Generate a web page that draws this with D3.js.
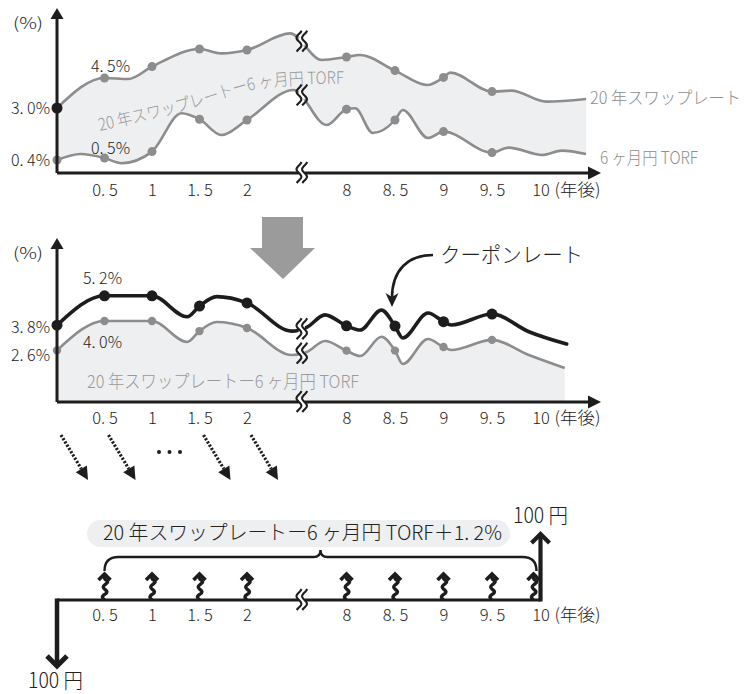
<!DOCTYPE html>
<html><head><meta charset="utf-8">
<script src="https://cdn.jsdelivr.net/npm/d3@7"></script>
<style>
html,body{margin:0;padding:0;background:#fff;}
svg text{font-family:'Noto Sans CJK JP','Noto Sans',sans-serif;font-weight:300;}
</style></head><body>
<svg id="c" width="748" height="694"></svg>
<script>
// ---------------- data ----------------
const tickYears = [0.5, 1, 1.5, 2, 8, 8.5, 9, 9.5, 10];
const dotYears = [0, 0.5, 1, 1.5, 2, 8, 8.5, 9, 9.5];
const breakYear = 5.3;

// top chart: 20-year swap rate (%)
const swapYears  = [0, 0.5, 0.75, 1, 1.5, 1.73, 2, 4.6, 6.5, 8, 8.14, 8.5, 8.83, 9, 9.07, 9.5, 9.7, 10.06, 10.47];
const swapValues = [3.0, 4.5, 4.45, 5.07, 5.95, 5.73, 5.9, 6.73, 5.4, 5.55, 5.65, 4.87, 4.15, 4.53, 4.77, 3.82, 3.87, 3.32, 3.45];
// top chart: 6-month yen TORF (%)
const torfYears  = [0, 0.25, 0.5, 0.68, 1, 1.31, 1.5, 1.73, 2, 4.8, 6.8, 8, 8.09, 8.27, 8.5, 8.58, 8.84, 9, 9.5, 9.67, 10.02, 10.22, 10.47];
const torfValues = [0.4, 0.7, 0.5, 0.24, 0.82, 2.74, 2.44, 1.65, 2.4, 3.9, 2.15, 2.94, 2.99, 1.75, 2.4, 2.9, 1.5, 1.82, 0.77, 1.02, 0.65, 0.87, 0.7];

// middle chart: coupon rate (%)
const couponYears  = [0, 0.5, 1, 1.37, 1.5, 1.68, 2, 4.7, 5.6, 6.7, 8, 8.14, 8.36, 8.5, 8.58, 8.84, 9, 9.08, 9.5, 9.88, 10.27];
const couponValues = [3.8, 5.2, 5.2, 4.2, 4.71, 5.16, 4.86, 3.52, 3.7, 4.29, 3.77, 3.57, 4.52, 3.76, 3.19, 4.38, 3.97, 3.81, 4.33, 3.49, 2.9];
// middle chart: swap - TORF spread (%)
const spreadYears  = [0, 0.5, 1, 1.37, 1.5, 1.68, 2, 4.7, 5.6, 6.7, 8, 8.14, 8.36, 8.5, 8.58, 8.84, 9, 9.08, 9.5, 9.88, 10.25];
const spreadValues = [2.6, 4.0, 4.0, 3.0, 3.52, 3.95, 3.67, 2.38, 2.52, 3.05, 2.59, 2.33, 3.25, 2.59, 1.95, 3.14, 2.76, 2.62, 3.1, 2.38, 1.76];

const dottedArrowYears = [0, 0.5, 1.5, 2];
const cashflowYears = [0.5, 1, 1.5, 2, 8, 8.5, 9, 9.5, 10];
const principalLabel = "100 円";
const swapLabel = "20 年スワップレート";
const torfLabel = "6 ヶ月円 TORF";
const spreadLabel = "20 年スワップレートー6 ヶ月円 TORF";
const couponFormula = "20 年スワップレートー6 ヶ月円 TORF＋1. 2%";
const couponLabel = "クーポンレート";
const unitLabel = "(%)";
const yearUnit = "(年後)";

// ---------------- helpers ----------------
const INK = '#1d1d1d', GRAY = '#8d8d8d', FILL = '#eeeff1', TGRAY = '#9a9a9a';
const svg = d3.select('#c');
const X = d3.scaleLinear().domain([0, 2, 8, 10]).range([57, 247, 346.5, 540.5]);
const yTop = d3.scaleLinear().domain([0, 5]).range([168, 68]);
const yMid = d3.scaleLinear().domain([0, 5]).range([405, 300]);
const TOP_BASE = 173, MID_BASE = 402, BOT_BASE = 600;
const fmtYear = d => String(d).replace('.', '. ');
const fmtPct = d => d.toFixed(1).replace('.', '. ') + '%';
const pts = (xs, vs) => xs.map((x, i) => [x, vs[i]]);

function txt(g, x, y, s, o = {}) {
  const t = g.append('text').attr('x', x).attr('y', y).attr('dy', '0.35em').text(s)
    .attr('font-size', o.size || 16).attr('fill', o.fill || '#222')
    .attr('text-anchor', o.anchor || 'start');
  if (o.len) t.attr('textLength', o.len).attr('lengthAdjust', 'spacingAndGlyphs');
  return t;
}
function yAt(node, x) {
  let lo = 0, hi = node.getTotalLength();
  for (let i = 0; i < 40; i++) {
    const m = (lo + hi) / 2;
    if (node.getPointAtLength(m).x < x) lo = m; else hi = m;
  }
  return node.getPointAtLength(lo).y;
}
function brk(g, x, y) {
  g.append('rect').attr('x', x - 3).attr('y', y - 4).attr('width', 6).attr('height', 8).attr('fill', '#fff');
  const wave = d3.line().curve(d3.curveBasis);
  [-2.8, 2.8].forEach(dx => {
    const p = d3.range(-11, 11.5, 1.5).map(t => [x + dx + 2.6 * Math.sin(Math.PI * t / 7.5), y + t]);
    g.append('path').attr('d', wave(p)).attr('fill', 'none').attr('stroke', INK).attr('stroke-width', 2.1);
  });
}
function xAxis(g, y, pad) {
  const a = g.append('g').attr('transform', `translate(0,${y})`)
    .call(d3.axisBottom(X).tickValues(tickYears).tickFormat(fmtYear).tickSize(0).tickPadding(pad));
  a.select('.domain').remove();
  a.selectAll('text').attr('font-size', 16.5).attr('fill', '#222')
    .attr('font-family', "'Noto Sans CJK JP','Noto Sans',sans-serif");
  g.append('text').attr('x', X(10) + 14).attr('y', y + pad).attr('dy', '0.71em')
    .attr('font-size', 17).attr('fill', '#222').text(yearUnit)
    .attr('textLength', 46).attr('lengthAdjust', 'spacingAndGlyphs');
}
function frame(g, base, tipY) {
  g.append('path').attr('d', `M57,${base}V${tipY + 9}M57,${base}H591`)
    .attr('stroke', INK).attr('stroke-width', 3).attr('fill', 'none');
  g.append('path').attr('d', `M50.5,${tipY + 11}L57,${tipY}L63.5,${tipY + 11}Z`).attr('fill', INK);
  g.append('path').attr('d', `M588,${base - 6.5}L601,${base}L588,${base + 6.5}Z`).attr('fill', INK);
}
const lineOf = y => d3.line().x(d => X(d[0])).y(d => y(d[1])).curve(d3.curveMonotoneX);
const areaOf = (y, b) => d3.area().x(d => X(d[0])).y0(b).y1(d => y(d[1])).curve(d3.curveMonotoneX);

// ---------------- top chart ----------------
const gT = svg.append('g');
const swapPts = pts(swapYears, swapValues), torfPts = pts(torfYears, torfValues);
gT.append('path').attr('d', areaOf(yTop, TOP_BASE)(swapPts)).attr('fill', FILL);
gT.append('path').attr('d', areaOf(yTop, TOP_BASE)(torfPts)).attr('fill', '#fff');

// curved band label
const lblPath = d3.line().x(d => X(d[0])).y(d => yTop(d[1])).curve(d3.curveNatural)
  ([[0.45, 1.85], [1.47, 3.05], [2.96, 4.0], [8.02, 4.22]]);
gT.append('path').attr('id', 'lblp').attr('d', lblPath).attr('fill', 'none');
gT.append('text').attr('font-size', 17).attr('fill', TGRAY)
  .append('textPath').attr('href', '#lblp').attr('textLength', 250)
  .attr('lengthAdjust', 'spacingAndGlyphs').text(spreadLabel);

const swapLine = gT.append('path').attr('d', lineOf(yTop)(swapPts))
  .attr('fill', 'none').attr('stroke', GRAY).attr('stroke-width', 2.6);
const torfLine = gT.append('path').attr('d', lineOf(yTop)(torfPts))
  .attr('fill', 'none').attr('stroke', GRAY).attr('stroke-width', 2.6);

gT.selectAll('.sd').data(swapPts.filter(d => dotYears.includes(d[0]))).join('circle')
  .attr('cx', d => X(d[0])).attr('cy', d => yTop(d[1]))
  .attr('r', d => d[0] === 0 ? 5.5 : 4.5).attr('fill', d => d[0] === 0 ? INK : GRAY);
gT.selectAll('.td').data(torfPts.filter(d => dotYears.includes(d[0]))).join('circle')
  .attr('cx', d => X(d[0])).attr('cy', d => yTop(d[1])).attr('r', 4.5).attr('fill', GRAY);

frame(gT, TOP_BASE, 8);
const bx = X(breakYear);
brk(gT, bx, yAt(swapLine.node(), bx));
brk(gT, bx, yAt(torfLine.node(), bx));
brk(gT, bx, TOP_BASE);
xAxis(gT, TOP_BASE, 11);

txt(gT, 13, 23, unitLabel, {len: 30});
txt(gT, 50, yTop(swapValues[0]), fmtPct(swapValues[0]), {anchor: 'end'});
txt(gT, 50, yTop(torfValues[0]), fmtPct(torfValues[0]), {anchor: 'end'});
txt(gT, X(0.5) + 6, yTop(swapValues[1]) - 12, fmtPct(swapValues[1]), {anchor: 'middle'});
txt(gT, X(0.5) + 6, yTop(torfValues[2]) - 10, fmtPct(torfValues[2]), {anchor: 'middle'});
txt(gT, 590, 98, swapLabel, {size: 17, fill: GRAY, len: 151});
txt(gT, 600, 158, torfLabel, {size: 17, fill: GRAY, len: 98});

// big gray arrow
svg.append('path').attr('d', 'M262,217H303V248H315L283,279L250,248H262Z').attr('fill', '#9b9b9b');

// ---------------- middle chart ----------------
const gM = svg.append('g');
const coupPts = pts(couponYears, couponValues), sprPts = pts(spreadYears, spreadValues);
gM.append('path').attr('d', areaOf(yMid, MID_BASE)(sprPts)).attr('fill', FILL);
txt(gM, 87, 382, spreadLabel, {size: 18, fill: TGRAY, len: 272});
const sprLine = gM.append('path').attr('d', lineOf(yMid)(sprPts))
  .attr('fill', 'none').attr('stroke', GRAY).attr('stroke-width', 2.6);
const coupLine = gM.append('path').attr('d', lineOf(yMid)(coupPts))
  .attr('fill', 'none').attr('stroke', INK).attr('stroke-width', 3.6).attr('stroke-linecap', 'round');
gM.selectAll('.cd').data(coupPts.filter(d => dotYears.includes(d[0]))).join('circle')
  .attr('cx', d => X(d[0])).attr('cy', d => yMid(d[1])).attr('r', 5.5).attr('fill', INK);
gM.selectAll('.pd').data(sprPts.filter(d => dotYears.includes(d[0]))).join('circle')
  .attr('cx', d => X(d[0])).attr('cy', d => yMid(d[1])).attr('r', 4.2).attr('fill', GRAY);
frame(gM, MID_BASE, 238);
brk(gM, bx, yAt(coupLine.node(), bx));
brk(gM, bx, yAt(sprLine.node(), bx));
brk(gM, bx, MID_BASE);
xAxis(gM, MID_BASE, 10);
txt(gM, 13, 253, unitLabel, {len: 30});
txt(gM, 50, yMid(couponValues[0]) + 2, fmtPct(couponValues[0]), {anchor: 'end'});
txt(gM, 50, yMid(spreadValues[0]) + 5, fmtPct(spreadValues[0]), {anchor: 'end'});
txt(gM, X(0.5) - 2, yMid(couponValues[1]) - 17, fmtPct(couponValues[1]), {anchor: 'middle'});
txt(gM, X(0.5) - 2, yMid(spreadValues[1]) + 21, fmtPct(spreadValues[1]), {anchor: 'middle'});
txt(gM, 440, 255, couponLabel, {size: 21, fill: '#222', len: 143});
gM.append('path').attr('d', 'M433,255C408,255 392,270 392,298').attr('fill', 'none')
  .attr('stroke', INK).attr('stroke-width', 2.6);
gM.append('path').attr('d', 'M385.5,293L392,307L398.5,293L392,297Z').attr('fill', INK);

// dotted arrows
const gD = svg.append('g');
dottedArrowYears.forEach(yv => {
  const x0 = X(yv) + 4, x1 = X(yv) + 31, y0 = 435, y1 = 480;
  const ang = Math.atan2(y1 - y0, x1 - x0);
  const bx2 = x1 - 13 * Math.cos(ang), by2 = y1 - 13 * Math.sin(ang);
  gD.append('path').attr('d', `M${x0},${y0}L${bx2},${by2}`).attr('stroke', INK)
    .attr('stroke-width', 3.2).attr('stroke-dasharray', '2.2,1.6').attr('fill', 'none');
  const nx = -Math.sin(ang) * 6.5, ny = Math.cos(ang) * 6.5;
  gD.append('path').attr('d', `M${x1},${y1}L${bx2 + nx},${by2 + ny}L${bx2 - nx},${by2 - ny}Z`).attr('fill', INK);
});
const dotCx = ((X(0.5) + X(1.5)) / 2 + 17.5);
[-10.5, 0, 10.5].forEach(d => gD.append('circle').attr('cx', dotCx + d).attr('cy', 452).attr('r', 2).attr('fill', INK));

// ---------------- bottom chart ----------------
const gB = svg.append('g');
const x05 = X(0.5), x10 = X(10);
// pill label
gB.append('rect').attr('x', 87).attr('y', 520).attr('width', 423).attr('height', 27).attr('rx', 13.5).attr('fill', FILL);
txt(gB, 103, 533, couponFormula, {size: 20, fill: '#222', len: 399});
// brace
const bm = (x05 + x10 - 4) / 2;
gB.append('path').attr('d', `M${x05},571Q${x05},557 ${x05 + 14},557H${bm - 7}Q${bm},557 ${bm},550Q${bm},557 ${bm + 7},557H${x10 - 18}Q${x10 - 4},557 ${x10 - 4},571`)
  .attr('fill', 'none').attr('stroke', INK).attr('stroke-width', 2.4);
// axis
gB.append('path').attr('d', `M57,${BOT_BASE}H${x10}`).attr('stroke', INK).attr('stroke-width', 3).attr('fill', 'none');
// principal arrows
gB.append('path').attr('d', `M57,${BOT_BASE - 1.5}V666`).attr('stroke', INK).attr('stroke-width', 4.5);
gB.append('path').attr('d', 'M47,656L57,666L67,656').attr('stroke', INK).attr('stroke-width', 5).attr('fill', 'none');
gB.append('path').attr('d', `M${x10},${BOT_BASE + 1.5}V534`).attr('stroke', INK).attr('stroke-width', 4.2);
gB.append('path').attr('d', `M${x10 - 9},543L${x10},534L${x10 + 9},543`).attr('stroke', INK).attr('stroke-width', 4.2).attr('fill', 'none');
// coupon squiggles
const sq = d3.line().curve(d3.curveBasis);
cashflowYears.forEach(yv => {
  const cx = Math.min(X(yv), x10 - 7), top = 573;
  gB.append('path').attr('d', `M${cx - 6},${top + 7}L${cx},${top + 1}L${cx + 6},${top + 7}`)
    .attr('stroke', INK).attr('stroke-width', 3.6).attr('fill', 'none');
  gB.append('path').attr('d', sq([[cx, top + 3], [cx - 1, top + 6], [cx + 6, top + 9], [cx - 5, top + 14], [cx + 6, top + 19], [cx - 4, top + 23], [cx, BOT_BASE]]))
    .attr('stroke', INK).attr('stroke-width', 3.4).attr('fill', 'none');
});
brk(gB, bx, BOT_BASE);
xAxis(gB, BOT_BASE, 9);
txt(gB, 513, 516, principalLabel, {size: 21, fill: '#222', len: 55});
txt(gB, 28, 681, principalLabel, {size: 21, fill: '#222', len: 55});
</script>
</body></html>
